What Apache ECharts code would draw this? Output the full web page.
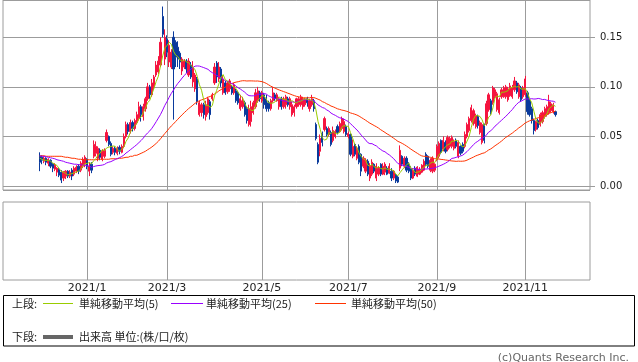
<!DOCTYPE html>
<html><head><meta charset="utf-8">
<script src="https://cdn.jsdelivr.net/npm/echarts@6/dist/echarts.min.js"></script>
<style>html,body{margin:0;padding:0;background:#fff}#c{width:638px;height:362px}</style>
</head><body><div id="c"></div>
<script>
// Trading days shown (Japan market calendar)
const tradingDays = [
  ['2020/12', [1,2,3,4,7,8,9,10,11,14,15,16,17,18,21,22,23,24,25,28,29,30]],
  ['2021/1', [4,5,6,7,8,12,13,14,15,18,19,20,21,22,25,26,27,28,29]],
  ['2021/2', [1,2,3,4,5,8,9,10,12,15,16,17,18,19,22,24,25,26]],
  ['2021/3', [1,2,3,4,5,8,9,10,11,12,15,16,17,18,19,22,23,24,25,26,29,30,31]],
  ['2021/4', [1,2,5,6,7,8,9,12,13,14,15,16,19,20,21,22,23,26,27,28,30]],
  ['2021/5', [6,7,10,11,12,13,14,17,18,19,20,21,24,25,26,27,28,31]],
  ['2021/6', [1,2,3,4,7,8,9,10,11,14,15,16,17,18,21,22,23,24,25,28,29,30]],
  ['2021/7', [1,2,5,6,7,8,9,12,13,14,15,16,19,20,21,26,27,28,29,30]],
  ['2021/8', [2,3,4,5,6,10,11,12,13,16,17,18,19,20,23,24,25,26,27,30,31]],
  ['2021/9', [1,2,3,6,7,8,9,10,13,14,15,16,17,21,22,24,27,28,29,30]],
  ['2021/10', [1,4,5,6,7,8,11,12,13,14,15,18,19,20,21,22,25,26,27,28,29]],
  ['2021/11', [1,2,4,5,8,9,10,11,12,15,16,17,18,19,22]]
];
const xTickLabels = ['2021/1','2021/3','2021/5','2021/7','2021/9','2021/11'];
const yTickValues = [0, 0.05, 0.10, 0.15];

// [open, close, low, high]
const dec20 = [
 [0.030,0.024,0.015,0.034],[0.029,0.026,0.022,0.031],[0.025,0.028,0.023,0.030],[0.028,0.024,0.021,0.029],
 [0.023,0.027,0.020,0.028],[0.026,0.020,0.018,0.027],[0.022,0.018,0.014,0.023],[0.017,0.021,0.015,0.023],
 [0.014,0.018,0.010,0.019],[0.017,0.011,0.009,0.018],[0.014,0.006,0.003,0.016],[0.008,0.014,0.005,0.015],
 [0.010,0.015,0.007,0.016],[0.015,0.010,0.008,0.016],[0.010,0.014,0.008,0.016],[0.016,0.010,0.006,0.018],
 [0.012,0.018,0.010,0.020],[0.015,0.019,0.013,0.021],[0.020,0.015,0.012,0.022],[0.016,0.023,0.014,0.025],
 [0.020,0.027,0.018,0.029],[0.022,0.029,0.019,0.031]
];
const jan21 = [
 [0.027,0.020,0.017,0.028],[0.015,0.020,0.010,0.024],[0.022,0.016,0.013,0.024],[0.030,0.042,0.028,0.046],
 [0.033,0.040,0.030,0.045],[0.028,0.038,0.025,0.040],[0.036,0.029,0.026,0.038],[0.027,0.035,0.025,0.037],
 [0.030,0.036,0.028,0.038],[0.046,0.054,0.044,0.057],[0.050,0.042,0.040,0.051],[0.043,0.032,0.030,0.045],
 [0.034,0.038,0.032,0.040],[0.038,0.034,0.031,0.040],[0.033,0.038,0.031,0.040],[0.039,0.035,0.032,0.041],
 [0.034,0.040,0.033,0.042],[0.040,0.050,0.038,0.053],[0.050,0.062,0.048,0.065]
];
const feb21 = [
 [0.062,0.055,0.052,0.064],[0.055,0.064,0.053,0.067],[0.064,0.058,0.055,0.066],[0.058,0.066,0.056,0.068],
 [0.064,0.072,0.062,0.075],[0.068,0.080,0.066,0.085],[0.080,0.072,0.065,0.082],[0.070,0.080,0.066,0.083],
 [0.078,0.088,0.075,0.090],[0.088,0.100,0.086,0.104],[0.100,0.092,0.088,0.102],[0.092,0.104,0.090,0.108],
 [0.100,0.110,0.097,0.112],[0.112,0.122,0.110,0.126],[0.115,0.126,0.113,0.131],[0.122,0.145,0.120,0.150],
 [0.171,0.153,0.150,0.181],[0.128,0.150,0.122,0.158]
];
const mar21 = [
 [0.148,0.135,0.130,0.152],[0.125,0.142,0.120,0.147],[0.120,0.135,0.118,0.138],[0.150,0.118,0.067,0.156],
 [0.145,0.130,0.120,0.147],[0.140,0.128,0.120,0.146],[0.134,0.125,0.118,0.136],[0.116,0.128,0.112,0.130],
 [0.120,0.126,0.118,0.128],[0.126,0.118,0.114,0.128],[0.112,0.126,0.110,0.129],[0.122,0.110,0.108,0.125],
 [0.105,0.120,0.100,0.126],[0.098,0.112,0.095,0.114],[0.108,0.085,0.082,0.110],[0.072,0.084,0.070,0.086],
 [0.074,0.082,0.070,0.084],[0.082,0.072,0.068,0.084],[0.070,0.082,0.066,0.086],[0.074,0.088,0.072,0.090],
 [0.085,0.072,0.067,0.087],[0.088,0.092,0.086,0.094],[0.104,0.120,0.102,0.124]
];
const apr21 = [
 [0.124,0.110,0.104,0.126],[0.108,0.120,0.105,0.125],[0.118,0.104,0.100,0.120],[0.094,0.108,0.092,0.112],
 [0.104,0.094,0.092,0.106],[0.095,0.104,0.093,0.106],[0.098,0.106,0.095,0.108],[0.100,0.094,0.092,0.102],
 [0.094,0.102,0.092,0.104],[0.096,0.086,0.084,0.098],[0.094,0.084,0.082,0.096],[0.078,0.088,0.076,0.092],
 [0.080,0.086,0.078,0.090],[0.084,0.072,0.070,0.086],[0.078,0.066,0.063,0.080],[0.062,0.078,0.060,0.082],
 [0.065,0.080,0.060,0.086],[0.074,0.084,0.072,0.086],[0.080,0.094,0.078,0.098],[0.086,0.096,0.084,0.100],
 [0.094,0.088,0.085,0.096]
];
const may21 = [
 [0.086,0.094,0.084,0.096],[0.092,0.082,0.078,0.094],[0.088,0.078,0.075,0.092],[0.084,0.078,0.075,0.086],
 [0.078,0.086,0.076,0.088],[0.086,0.094,0.084,0.100],[0.092,0.088,0.086,0.094],[0.086,0.092,0.085,0.094],
 [0.080,0.088,0.077,0.090],[0.088,0.080,0.077,0.090],[0.080,0.088,0.078,0.090],[0.082,0.090,0.078,0.092],
 [0.088,0.082,0.080,0.090],[0.080,0.088,0.077,0.090],[0.072,0.082,0.070,0.085],[0.074,0.080,0.070,0.082],
 [0.080,0.088,0.078,0.089],[0.082,0.088,0.080,0.090]
];
const jun21 = [
 [0.082,0.090,0.080,0.092],[0.080,0.088,0.077,0.090],[0.082,0.087,0.080,0.089],[0.088,0.084,0.080,0.090],
 [0.078,0.086,0.075,0.088],[0.082,0.088,0.080,0.092],[0.086,0.078,0.075,0.088],[0.062,0.048,0.046,0.064],
 [0.042,0.024,0.022,0.044],[0.035,0.048,0.030,0.052],[0.053,0.044,0.040,0.055],[0.057,0.068,0.055,0.070],
 [0.058,0.052,0.050,0.060],[0.052,0.058,0.050,0.060],[0.054,0.042,0.040,0.056],[0.046,0.056,0.044,0.060],
 [0.050,0.055,0.048,0.057],[0.060,0.054,0.052,0.062],[0.055,0.063,0.054,0.065],[0.058,0.068,0.056,0.070],
 [0.055,0.065,0.053,0.068],[0.060,0.052,0.050,0.062]
];
const jul21 = [
 [0.050,0.053,0.048,0.055],[0.052,0.032,0.030,0.053],[0.030,0.040,0.028,0.047],[0.042,0.032,0.030,0.043],
 [0.028,0.038,0.026,0.040],[0.040,0.024,0.022,0.042],[0.032,0.015,0.010,0.033],[0.020,0.028,0.018,0.030],
 [0.015,0.026,0.013,0.028],[0.025,0.012,0.010,0.027],[0.008,0.020,0.005,0.023],[0.012,0.024,0.010,0.027],
 [0.022,0.015,0.013,0.023],[0.008,0.020,0.005,0.023],[0.012,0.018,0.010,0.020],[0.022,0.012,0.010,0.023],
 [0.012,0.020,0.011,0.023],[0.014,0.022,0.011,0.024],[0.018,0.012,0.011,0.020],[0.013,0.020,0.012,0.023]
];
const aug21 = [
 [0.015,0.008,0.005,0.018],[0.008,0.015,0.006,0.016],[0.011,0.005,0.003,0.012],[0.009,0.004,0.003,0.010],
 [0.018,0.036,0.015,0.041],[0.030,0.022,0.020,0.031],[0.020,0.028,0.018,0.030],[0.028,0.016,0.014,0.030],
 [0.022,0.015,0.013,0.024],[0.018,0.008,0.006,0.020],[0.008,0.016,0.007,0.018],[0.018,0.012,0.010,0.020],
 [0.010,0.019,0.009,0.020],[0.012,0.017,0.011,0.019],[0.014,0.021,0.013,0.022],[0.016,0.025,0.015,0.027],
 [0.032,0.022,0.020,0.034],[0.030,0.020,0.018,0.031],[0.016,0.026,0.014,0.028],[0.015,0.028,0.013,0.030],
 [0.016,0.022,0.014,0.023]
];
const sep21 = [
 [0.027,0.040,0.025,0.042],[0.030,0.043,0.028,0.045],[0.046,0.034,0.032,0.047],[0.037,0.046,0.035,0.050],
 [0.044,0.035,0.033,0.046],[0.037,0.049,0.035,0.051],[0.040,0.048,0.038,0.050],[0.040,0.049,0.038,0.051],
 [0.038,0.045,0.036,0.047],[0.046,0.040,0.038,0.048],[0.030,0.044,0.028,0.046],[0.040,0.033,0.031,0.041],
 [0.042,0.035,0.033,0.044],[0.040,0.052,0.038,0.055],[0.050,0.062,0.048,0.064],[0.056,0.068,0.054,0.070],
 [0.066,0.079,0.064,0.082],[0.063,0.076,0.061,0.078],[0.060,0.071,0.058,0.073],[0.070,0.061,0.058,0.072]
];
const oct21 = [
 [0.054,0.064,0.052,0.066],[0.044,0.062,0.042,0.064],[0.062,0.046,0.043,0.063],[0.063,0.083,0.061,0.086],
 [0.077,0.092,0.075,0.094],[0.086,0.074,0.072,0.088],[0.084,0.099,0.082,0.101],[0.090,0.097,0.088,0.099],
 [0.077,0.093,0.075,0.095],[0.074,0.087,0.072,0.089],[0.090,0.097,0.088,0.099],[0.090,0.099,0.089,0.101],
 [0.090,0.100,0.088,0.102],[0.087,0.098,0.085,0.100],[0.091,0.101,0.090,0.104],[0.090,0.099,0.088,0.102],
 [0.097,0.106,0.095,0.110],[0.104,0.095,0.093,0.106],[0.090,0.102,0.088,0.104],[0.099,0.087,0.085,0.101],
 [0.090,0.099,0.088,0.101]
];
const nov21 = [
 [0.092,0.108,0.090,0.111],[0.094,0.075,0.072,0.096],[0.086,0.072,0.070,0.088],[0.078,0.066,0.063,0.080],
 [0.066,0.056,0.052,0.068],[0.057,0.065,0.055,0.066],[0.066,0.059,0.057,0.068],[0.062,0.072,0.060,0.074],
 [0.065,0.074,0.063,0.076],[0.070,0.078,0.068,0.080],[0.072,0.080,0.070,0.082],[0.074,0.085,0.072,0.092],
 [0.076,0.083,0.074,0.085],[0.075,0.082,0.073,0.084],[0.075,0.072,0.070,0.076]
];
// Moving-average values before a full window exists
const ma5Head = [0.028,0.027,0.026,0.026];
const ma25Head = [0.0305,0.030,0.030,0.0295,0.029,0.0285,0.028,0.0275,0.0265,0.026,0.0255,0.025,0.024,0.0235,0.023,0.0225,0.022,0.022,0.0215,0.0215,0.021,0.021,0.0205,0.020];
const ma50Head = [0.0305,0.0305,0.0305,0.030,0.030,0.030,0.030,0.030,0.030,0.030,0.030,0.0295,0.029,0.029,0.0285,0.028,0.028,0.0275,0.027,0.027,0.0265,0.0265,0.0265,0.0265,0.0265,0.0265,0.0265,0.027,0.027,0.027,0.027,0.027,0.027,0.0275,0.0275,0.0275,0.0275,0.028,0.028,0.0285,0.029,0.029,0.030,0.030,0.031,0.031,0.032,0.033,0.034];

const ohlc = [].concat(dec20,jan21,feb21,mar21,apr21,may21,jun21,jul21,aug21,sep21,oct21,nov21);
const dates = [];
tradingDays.forEach(([m, days]) => days.forEach(d => dates.push(m + '/' + d)));
const PAD_BEFORE = 17, PAD_AFTER = 16;
const cats = [];
for (let i = 0; i < PAD_BEFORE; i++) cats.push('pre' + i);
dates.forEach(d => cats.push(d));
for (let i = 0; i < PAD_AFTER; i++) cats.push('post' + i);

const closes = ohlc.map(r => r[1]);
function movingAvg(n, head) {
  return closes.map((c, i) => {
    if (i < n - 1) return head[i];
    let s = 0; for (let k = i - n + 1; k <= i; k++) s += closes[k];
    return s / n;
  });
}
const ma5 = movingAvg(5, ma5Head), ma25 = movingAvg(25, ma25Head), ma50 = movingAvg(50, ma50Head);

function isMonthTick(v) {
  const p = String(v).split('/');
  if (p.length !== 3) return false;
  const m = p[0] + '/' + p[1];
  if (xTickLabels.indexOf(m) < 0) return false;
  const entry = tradingDays.find(t => t[0] === m);
  return entry && entry[1][0] === +p[2];
}
const gridColor = '#9c9c9c';
const upColor = '#f5143f', downColor = '#0a3a9c';
const chart = echarts.init(document.getElementById('c'), null, {renderer: 'canvas'});
const cjk = "'Noto Sans CJK JP', sans-serif";
const legendText = (x, y, t) => ({type:'text', x, y, style:{text:t, font:'11px ' + cjk, fill:'#222', verticalAlign:'middle'}});
chart.setOption({
  animation: false,
  backgroundColor: '#fff',
  grid: [
    {left: 3, right: 48, top: 0, height: 190, show: true, borderColor: gridColor, borderWidth: 1},
    {left: 3, right: 48, top: 202, height: 78, show: true, borderColor: gridColor, borderWidth: 1}
  ],
  xAxis: [
    {type:'category', gridIndex:0, data:cats, boundaryGap:false,
     axisLine:{show:false}, axisTick:{show:false}, axisLabel:{show:false},
     splitLine:{show:true, interval:(i, v) => isMonthTick(v), lineStyle:{color:gridColor, width:1}}},
    {type:'category', gridIndex:1, data:cats, boundaryGap:false,
     axisLine:{show:false}, axisTick:{show:false},
     axisLabel:{show:true, interval:(i, v) => isMonthTick(v), margin:3,
       formatter: v => { const p = v.split('/'); return p[0] + '/' + p[1]; },
       fontFamily:'DejaVu Sans', fontSize:11, color:'#222'},
     splitLine:{show:true, interval:(i, v) => isMonthTick(v), lineStyle:{color:gridColor, width:1}}}
  ],
  yAxis: [
    {type:'value', gridIndex:0, position:'right', min:-0.004, max:0.1876, splitNumber:4, scale:false,
     axisLine:{show:false}, axisTick:{show:true, length:5, lineStyle:{color:gridColor}},
     axisLabel:{margin:10, fontFamily:'DejaVu Sans', fontSize:10, color:'#222', showMinLabel:false, showMaxLabel:false,
       formatter: v => { const hit = yTickValues.find(t => Math.abs(t - v) < 1e-9); return hit === undefined ? '' : hit.toFixed(2); }},
     splitLine:{show:true, lineStyle:{color:gridColor, width:1}}},
    {type:'value', gridIndex:1, min:0, max:1, show:false, splitLine:{show:false}}
  ],
  series: [
    {type:'candlestick', xAxisIndex:0, yAxisIndex:0, barWidth:1.7,
     data: ohlc.map((r, i) => [dates[i], r[0], r[1], r[2], r[3]]),
     encode:{x:0, y:[1,2,3,4]},
     itemStyle:{color:upColor, color0:downColor, borderColor:upColor, borderColor0:downColor, borderWidth:1}},
    {type:'line', name:'MA50', xAxisIndex:0, yAxisIndex:0, z:3, showSymbol:false, symbol:'none',
     data: ma50.map((v, i) => [dates[i], v]), lineStyle:{color:'#ff3300', width:1}},
    {type:'line', name:'MA25', xAxisIndex:0, yAxisIndex:0, z:4, showSymbol:false, symbol:'none',
     data: ma25.map((v, i) => [dates[i], v]), lineStyle:{color:'#9900ff', width:1}},
    {type:'line', name:'MA5', xAxisIndex:0, yAxisIndex:0, z:5, showSymbol:false, symbol:'none',
     data: ma5.map((v, i) => [dates[i], v]), lineStyle:{color:'#99cc00', width:1}}
  ],
  graphic: [
    {type:'rect', shape:{x:3.5, y:295.5, width:631, height:50.5}, style:{fill:'none', stroke:'#000', lineWidth:1}},
    legendText(12, 303.5, '上段:'),
    {type:'line', shape:{x1:43, y1:303.5, x2:73, y2:303.5}, style:{stroke:'#99cc00', lineWidth:1}},
    legendText(79, 303.5, '単純移動平均(5)'),
    {type:'line', shape:{x1:171, y1:303.5, x2:203, y2:303.5}, style:{stroke:'#9900ff', lineWidth:1}},
    legendText(206, 303.5, '単純移動平均(25)'),
    {type:'line', shape:{x1:315, y1:303.5, x2:346, y2:303.5}, style:{stroke:'#ff3300', lineWidth:1}},
    legendText(351, 303.5, '単純移動平均(50)'),
    legendText(12, 337, '下段:'),
    {type:'line', shape:{x1:43, y1:337, x2:73, y2:337}, style:{stroke:'#666', lineWidth:4}},
    legendText(79, 337, '出来高 単位:(株/口/枚)'),
    {type:'text', x:629, y:358, style:{text:'(c)Quants Research Inc.', font:'11px DejaVu Sans', fill:'#666', align:'right', verticalAlign:'middle'}}
  ]
});
</script></body></html>
